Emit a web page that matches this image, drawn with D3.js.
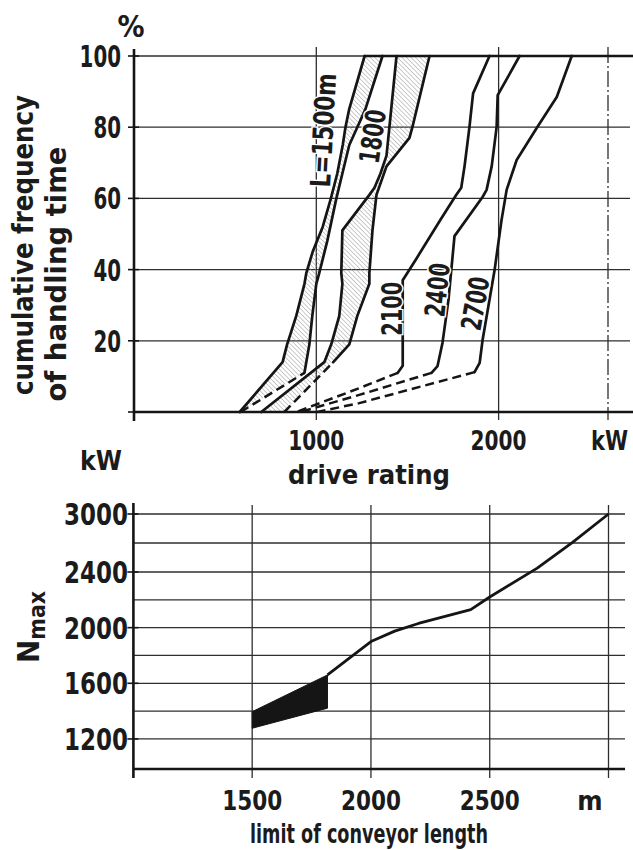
<!DOCTYPE html>
<html><head><meta charset="utf-8">
<script src="https://cdn.jsdelivr.net/npm/d3@7"></script>
<style>
body{margin:0;background:#fff;}
svg text{font-family:"DejaVu Sans Condensed","DejaVu Sans",sans-serif;font-weight:bold;fill:#1b1b1b;}
</style></head><body>
<svg id="c" width="633" height="850"></svg>
<script>
// ================= DATA =================
// Top chart: drive rating (kW) vs cumulative frequency of handling time (%)
const topYTicks = [20, 40, 60, 80, 100];
const topXTicks = [1000, 2000];
const topXEdge = 2600;
const topXUnit = "kW";
const topYUnit = "%";

// L = 1500 m band (hatched between A and B)
const l1500A_kW  = [580, 815, 840, 890, 935, 945, 980, 1035, 1080, 1115, 1145, 1160, 1180, 1265];
const l1500A_pct = [0, 14, 19, 27, 36, 39, 45, 52, 60, 67, 75, 80, 85, 100];
const l1500B_dash_kW  = [585, 935];
const l1500B_dash_pct = [0, 11];
const l1500B_kW  = [935, 962, 978, 1000, 1016, 1060, 1110, 1143, 1181, 1225, 1269, 1363];
const l1500B_pct = [11, 19, 27, 36, 39, 48, 60, 67, 75, 80, 85, 100];

// L = 1800 m band (hatched between C and D)
const l1800C_kW  = [698, 1044, 1082, 1126, 1143, 1137, 1143, 1291, 1319, 1352, 1385, 1401, 1440];
const l1800C_pct = [0, 14, 19, 27, 36, 39, 51, 61, 63, 67, 72, 80, 100];
const l1800D_dash_kW  = [824, 1093];
const l1800D_dash_pct = [0, 14];
const l1800D_kW  = [1093, 1181, 1225, 1291, 1291, 1308, 1330, 1385, 1511, 1527, 1621];
const l1800D_pct = [14, 19, 27, 36, 39, 51, 61, 69, 77, 80, 100];

// L = 2100 m
const l2100_kW  = [1950, 1860, 1840, 1813, 1795, 1768, 1681, 1548, 1474, 1474, 1447];
const l2100_pct = [100, 89.5, 80, 69, 63, 61, 54, 43, 37, 13, 11];
const l2100_dash_kW  = [1447, 1236, 890];
const l2100_dash_pct = [11, 6.7, 0];
// L = 2400 m
const l2400_kW  = [2115, 1995, 1989, 1962, 1934, 1912, 1758, 1725, 1692, 1665, 1632];
const l2400_pct = [100, 89, 80, 69, 62.4, 60.4, 49.4, 31.5, 19.4, 12.9, 11];
const l2400_dash_kW  = [1632, 1236, 912];
const l2400_dash_pct = [11, 4.8, 0];
// L = 2700 m
const l2700_kW  = [2401, 2319, 2209, 2099, 2044, 2016, 1978, 1912, 1896, 1868];
const l2700_pct = [100, 88.5, 79.8, 70.8, 62.4, 53.9, 39.9, 20.2, 13.8, 11.2];
const l2700_dash_kW  = [1868, 1236, 1005];
const l2700_dash_pct = [11.2, 2.5, 0];

const curveLabels = ["L=1500m", "1800", "2100", "2400", "2700"];
const curveLabelAt_kW  = [1092, 1362, 1472, 1717, 1925];
const curveLabelAt_pct = [79, 77, 29, 34, 30];

// Bottom chart: N_max (kW) vs limit of conveyor length (m)
const botXTicks = [1500, 2000, 2500];
const botXGrid = [1500, 2000, 2500, 3000];
const botXUnit = "m";
const botYTicks = [1200, 1600, 2000, 2400, 3000];
const botYGrid = [1200, 1400, 1600, 1800, 2000, 2200, 2400, 2700, 3000];
const botYUnit = "kW";

const bandLength = [1500, 1817];
const bandUpper  = [1396, 1660];
const bandLower  = [1277, 1421];
const lineLength = [1817, 2000, 2100, 2200, 2420, 2500, 2700, 2850, 3000];
const lineNmax   = [1660, 1900, 1975, 2030, 2130, 2220, 2440, 2710, 3000];

// ================= DRAWING =================
const svg = d3.select("#c");
const INK = "#151515", GRID = "#2e2e2e";

const defs = svg.append("defs");
defs.append("pattern").attr("id","hatch").attr("patternUnits","userSpaceOnUse")
  .attr("width",3.2).attr("height",3.2).attr("patternTransform","rotate(-45)")
  .append("line").attr("x1",0).attr("y1",0).attr("x2",0).attr("y2",3.2)
  .attr("stroke","#8a8a8a").attr("stroke-width",0.9);

// ---------- Top chart ----------
const xT = d3.scaleLinear().domain([0, topXEdge]).range([134, 608]);
const yT = d3.scaleLinear().domain([0, 100]).range([412, 56]);
const gT = svg.append("g");

topYTicks.forEach(v => {
  gT.append("line").attr("x1", xT(0)).attr("x2", v === 100 ? 633 : 630)
    .attr("y1", yT(v)).attr("y2", yT(v)).attr("stroke", GRID).attr("stroke-width", 1.3);
});
topXTicks.forEach(v => {
  gT.append("line").attr("x1", xT(v)).attr("x2", xT(v)).attr("y1", 47).attr("y2", 420)
    .attr("stroke", GRID).attr("stroke-width", 1.3);
});
gT.append("line").attr("x1", xT(topXEdge)).attr("x2", xT(topXEdge)).attr("y1", 47).attr("y2", 420)
  .attr("stroke", GRID).attr("stroke-width", 1.3).attr("stroke-dasharray", "16,3,2,3");

const lineT = d3.line().x(d => xT(d[0])).y(d => yT(d[1]));
const pts = (a, b) => d3.zip(a, b);

// hatched bands
function band(leftK, leftP, rdK, rdP, rK, rP) {
  const left = pts(leftK, leftP);
  const right = pts(rdK, rdP).concat(pts(rK, rP).slice(1));
  const poly = left.concat(right.reverse());
  gT.append("path").attr("d", lineT(poly) + "Z").attr("fill", "url(#hatch)").attr("stroke", "none");
}
band(l1500A_kW, l1500A_pct, l1500B_dash_kW, l1500B_dash_pct, l1500B_kW, l1500B_pct);
band(l1800C_kW, l1800C_pct, l1800D_dash_kW, l1800D_dash_pct, l1800D_kW, l1800D_pct);

function solid(k, p) {
  gT.append("path").attr("d", lineT(pts(k, p))).attr("fill", "none").attr("stroke", INK)
    .attr("stroke-width", 2.7).attr("stroke-linejoin", "round").attr("stroke-linecap", "round");
}
function dashed(k, p) {
  gT.append("path").attr("d", lineT(pts(k, p))).attr("fill", "none").attr("stroke", INK)
    .attr("stroke-width", 2.5).attr("stroke-dasharray", "9,5");
}
solid(l1500A_kW, l1500A_pct);
dashed(l1500B_dash_kW, l1500B_dash_pct); solid(l1500B_kW, l1500B_pct);
solid(l1800C_kW, l1800C_pct);
dashed(l1800D_dash_kW, l1800D_dash_pct); solid(l1800D_kW, l1800D_pct);
solid(l2100_kW, l2100_pct); dashed(l2100_dash_kW, l2100_dash_pct);
solid(l2400_kW, l2400_pct); dashed(l2400_dash_kW, l2400_dash_pct);
solid(l2700_kW, l2700_pct); dashed(l2700_dash_kW, l2700_dash_pct);

// thick 100 % top line
gT.append("line").attr("x1", xT(l1500A_kW[l1500A_kW.length - 1])).attr("x2", 633)
  .attr("y1", yT(100)).attr("y2", yT(100)).attr("stroke", INK).attr("stroke-width", 2.6);

// axes
gT.append("line").attr("x1", xT(0)).attr("x2", xT(0)).attr("y1", 49).attr("y2", 421)
  .attr("stroke", INK).attr("stroke-width", 2.6);
gT.append("line").attr("x1", xT(0)).attr("x2", 633).attr("y1", yT(0)).attr("y2", yT(0))
  .attr("stroke", INK).attr("stroke-width", 2.6);
[0].concat(topYTicks).forEach(v => {
  gT.append("line").attr("x1", xT(0) - 6).attr("x2", xT(0) + 5).attr("y1", yT(v)).attr("y2", yT(v))
    .attr("stroke", INK).attr("stroke-width", 1.6);
});

// labels
const fs = 30, fl = 28, fx = 27;
topYTicks.forEach(v => {
  const s = String(v);
  gT.append("text").attr("x", 121).attr("y", yT(v) + 11).attr("text-anchor", "end")
    .attr("font-size", fs).attr("textLength", s.length * 13.8).attr("lengthAdjust", "spacingAndGlyphs").text(s);
});
gT.append("text").attr("x", 131).attr("y", 37).attr("text-anchor", "middle").attr("font-size", fs).text(topYUnit);
topXTicks.forEach(v => {
  gT.append("text").attr("x", xT(v)).attr("y", 450).attr("text-anchor", "middle").attr("font-size", fx)
    .attr("textLength", 56).attr("lengthAdjust", "spacingAndGlyphs").text(String(v));
});
gT.append("text").attr("x", 628).attr("y", 450).attr("text-anchor", "end").attr("font-size", fx)
  .attr("textLength", 37).attr("lengthAdjust", "spacingAndGlyphs").text(topXUnit);
gT.append("text").attr("x", 369).attr("y", 484).attr("text-anchor", "middle").attr("font-size", fx)
  .attr("textLength", 162).attr("lengthAdjust", "spacingAndGlyphs").text("drive rating");
gT.append("text").attr("transform", "translate(33,245) rotate(-90)").attr("text-anchor", "middle")
  .attr("font-size", fl).attr("textLength", 300).attr("lengthAdjust", "spacingAndGlyphs").text("cumulative frequency");
gT.append("text").attr("transform", "translate(66,274) rotate(-90)").attr("text-anchor", "middle")
  .attr("font-size", fl).attr("textLength", 255).attr("lengthAdjust", "spacingAndGlyphs").text("of handling time");

const labelRot = [-87, -82, -90, -84, -80];
curveLabels.forEach((s, i) => {
  const x = xT(curveLabelAt_kW[i]), y = yT(curveLabelAt_pct[i]);
  gT.append("text").attr("transform", `translate(${x},${y}) rotate(${labelRot[i]})`)
    .attr("text-anchor", "middle").attr("font-size", 28)
    .attr("textLength", s.length === 4 ? 54 : 114).attr("lengthAdjust", "spacingAndGlyphs")
    .attr("stroke", "#fff").attr("stroke-width", 3).attr("paint-order", "stroke").text(s);
});

// ---------- Bottom chart ----------
const xB = d3.scaleLinear().domain([1000, 3000]).range([133.4, 608.5]);
const yB = d3.scaleLinear().domain([984, 2400, 3000]).range([769, 572, 514]);
const gB = svg.append("g");

botYGrid.forEach(v => {
  gB.append("line").attr("x1", xB(1000)).attr("x2", 625).attr("y1", yB(v)).attr("y2", yB(v))
    .attr("stroke", GRID).attr("stroke-width", 1.3);
});
botXGrid.forEach(v => {
  gB.append("line").attr("x1", xB(v)).attr("x2", xB(v)).attr("y1", 505).attr("y2", 778)
    .attr("stroke", GRID).attr("stroke-width", 1.3);
});
const lineB = d3.line().x(d => xB(d[0])).y(d => yB(d[1]));
const bandPoly = pts(bandLength, bandUpper).concat(pts(bandLength, bandLower).reverse());
gB.append("path").attr("d", lineB(bandPoly) + "Z").attr("fill", INK).attr("stroke", INK).attr("stroke-width", 1);
gB.append("path").attr("d", lineB(pts(lineLength, lineNmax))).attr("fill", "none").attr("stroke", INK)
  .attr("stroke-width", 2.8).attr("stroke-linejoin", "round");

gB.append("line").attr("x1", xB(1000)).attr("x2", xB(1000)).attr("y1", 503).attr("y2", 778)
  .attr("stroke", INK).attr("stroke-width", 2.6);
gB.append("line").attr("x1", xB(1000)).attr("x2", 625).attr("y1", yB(984)).attr("y2", yB(984))
  .attr("stroke", INK).attr("stroke-width", 2.6);
botYTicks.forEach(v => {
  gB.append("line").attr("x1", xB(1000) - 6).attr("x2", xB(1000) + 5).attr("y1", yB(v)).attr("y2", yB(v))
    .attr("stroke", INK).attr("stroke-width", 1.6);
  gB.append("text").attr("x", 128).attr("y", yB(v) + 11).attr("text-anchor", "end").attr("font-size", fs)
    .attr("textLength", 64).attr("lengthAdjust", "spacingAndGlyphs").text(String(v));
});
gB.append("text").attr("x", 101).attr("y", 470).attr("text-anchor", "middle").attr("font-size", fx)
  .attr("textLength", 42).attr("lengthAdjust", "spacingAndGlyphs").text(botYUnit);
botXTicks.forEach(v => {
  gB.append("text").attr("x", xB(v)).attr("y", 810).attr("text-anchor", "middle").attr("font-size", fx)
    .attr("textLength", 60).attr("lengthAdjust", "spacingAndGlyphs").text(String(v));
});
gB.append("text").attr("x", 590).attr("y", 810).attr("text-anchor", "middle").attr("font-size", fx).text(botXUnit);
gB.append("text").attr("x", 369).attr("y", 843).attr("text-anchor", "middle").attr("font-size", fx)
  .attr("textLength", 238).attr("lengthAdjust", "spacingAndGlyphs").text("limit of conveyor length");
const nm = gB.append("text").attr("transform", "translate(39,663) rotate(-90)").attr("font-size", 31);
nm.append("tspan").text("N");
nm.append("tspan").attr("dy", 6).attr("font-size", 23).text("max");
</script>
</body></html>
